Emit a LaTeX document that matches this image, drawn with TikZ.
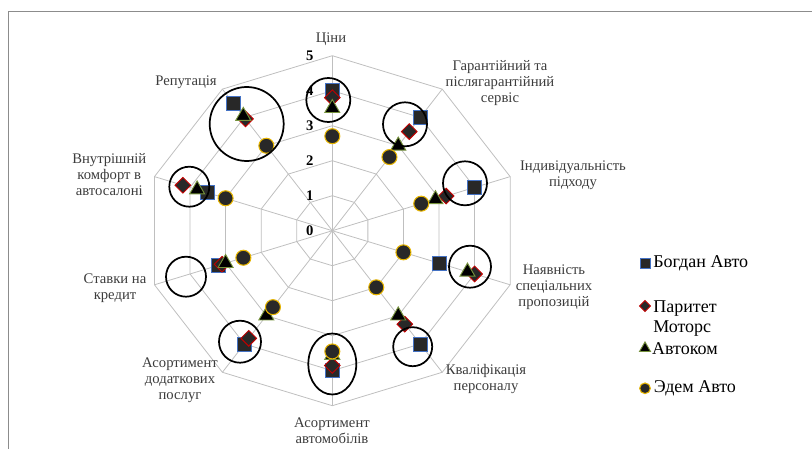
\documentclass[tikz,border=0pt]{standalone}
\usepackage{fontspec}
\setmainfont{Liberation Serif}
\newfontfamily\chartfont{Liberation Serif}
\usepackage{xcolor}
\usepackage{tikz}
\usetikzlibrary{shapes.geometric, positioning}
\definecolor{gridgray}{RGB}{191, 191, 191}
\definecolor{framegray}{RGB}{140, 140, 140}
\definecolor{markfill}{RGB}{40, 40, 40}
\definecolor{bogdan}{RGB}{68, 114, 196}
\definecolor{parytet}{RGB}{192, 0, 0}
\definecolor{avtokom}{RGB}{118, 146, 60}
\definecolor{edem}{RGB}{230, 180, 0}
\definecolor{labelgray}{RGB}{60, 60, 60}

\begin{document}
\begin{tikzpicture}[
    x=0.75pt, y=-0.75pt,
    gridline/.style={draw=gridgray, line width=0.6pt},
    catlabel/.style={align=center, inner sep=0pt, text=labelgray, font=\chartfont\fontsize{11}{12}\selectfont},
    ticklabel/.style={inner sep=0pt, font=\chartfont\bfseries\fontsize{11}{12}\selectfont},
    legtext/.style={anchor=west, align=left, inner sep=0pt, font=\chartfont\fontsize{13.5}{15.5}\selectfont},
    ring/.style={draw=black, line width=1.3pt},
    sqmark/.style={rectangle, draw=bogdan, fill=markfill, line width=0.7pt, minimum size=10.5pt, inner sep=0pt},
    dmmark/.style={diamond, draw=parytet, fill=markfill, line width=0.7pt, minimum size=12pt, inner sep=0pt},
    trimark/.style={regular polygon, regular polygon sides=3, draw=avtokom, fill=black, line width=0.7pt, minimum size=13pt, inner sep=0pt},
    cirmark/.style={circle, draw=edem, fill=markfill, line width=0.8pt, minimum size=11.25pt, inner sep=0pt}
]
    \useasboundingbox (0,0) rectangle (812,449);

    % Frame
    \draw[framegray, line width=1.2pt] (812,11.7) -- (8.3,11.7) -- (8.3,449);

    % Radar grid and markers
    \begin{scope}[shift={(332.3,230.7)}, x=28.05pt, y=26.25pt]
        \foreach \r in {1,...,5}
            \draw[gridline] (90:\r) \foreach \a in {54,18,...,-234} { -- (\a:\r) } -- cycle;
        \foreach \a in {90,54,...,-234}
            \draw[gridline] (0,0) -- (\a:5);

        \foreach \v in {0,...,5}
            \node[ticklabel] (tick\v) at (-0.6,\v) {\v};

        \foreach \v [count=\i from 0] in {4,4,4,3,4,4,4,3.2,3.5,4.5}
            \node[sqmark] (bogdan\i) at ({90-36*\i}:\v) {};
        \foreach \v [count=\i from 0] in {3.8,3.5,3.2,4,3.3,3.85,3.8,3.1,4.2,3.95}
            \node[dmmark] (parytet\i) at ({90-36*\i}:\v) {};
        \foreach \v [count=\i from 0] in {3.5,3,2.9,3.8,3,3.55,3,3,3.8,4.05}
            \node[trimark] (avtokom\i) at ({90-36*\i}:\v) {};
        \foreach \v [count=\i from 0] in {2.7,2.6,2.5,2,2,3.45,2.7,2.5,3,3}
            \node[cirmark] (edem\i) at ({90-36*\i}:\v) {};
    \end{scope}

    % Highlight rings
    \draw[ring] (328.3,100) circle[radius=22];
    \draw[ring] (405,124.3) circle[radius=22];
    \draw[ring] (465,183.3) circle[radius=22];
    \draw[ring] (470,266.7) circle[radius=21];
    \draw[ring] (412.7,346.7) circle[radius=19.5];
    \draw[ring] (332.3,364) ellipse[x radius=24, y radius=30.5];
    \draw[ring] (240,341.7) circle[radius=21];
    \draw[ring] (186,276.7) circle[radius=20];
    \draw[ring] (189.3,186.7) circle[radius=20];
    \draw[ring] (246.7,124) circle[radius=37];

    % Category labels
    \node[catlabel] (prices) at (331,39) {Ціни};
    \node[catlabel] (service) at (500,83.5) {Гарантійний та\\післягарантійний\\сервіс};
    \node[catlabel] (approach) at (573,175.3) {Індивідуальність\\підходу};
    \node[catlabel] (offers) at (554,287.4) {Наявність\\спеціальних\\пропозицій};
    \node[catlabel] (staff) at (486,379.2) {Кваліфікація\\персоналу};
    \node[catlabel] (cars) at (332,431) {Асортимент\\автомобілів};
    \node[catlabel] (extras) at (180,380.2) {Асортимент\\додаткових\\послуг};
    \node[catlabel] (credit) at (115,288.3) {Ставки на\\кредит};
    \node[catlabel] (comfort) at (109.3,175) {Внутрішній\\комфорт в\\автосалоні};
    \node[catlabel] (reputation) at (186,82.7) {Репутація};

    % Legend
    \node[sqmark, minimum size=7.5pt] (legbogdan) at (645,263.3) {};
    \node[legtext, right=2pt of legbogdan] (txtbogdan) {Богдан Авто};
    \node[dmmark, minimum size=8.5pt] (legparytet) at (645,306) {};
    \node[legtext, anchor=north west] (txtparytet) at (653,300) {Паритет\\Моторс};
    \node[trimark, minimum size=9.5pt] (legavtokom) at (645,348.3) {};
    \node[legtext, right=2pt of legavtokom] (txtavtokom) {Автоком};
    \node[cirmark, minimum size=8pt] (legedem) at (645,388.3) {};
    \node[legtext, right=2pt of legedem] (txtedem) {Эдем Авто};
\end{tikzpicture}
\end{document}
